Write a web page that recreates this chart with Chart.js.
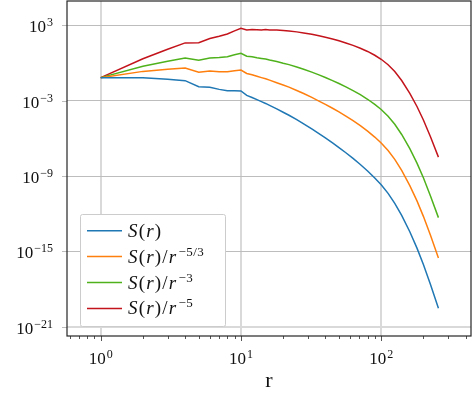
<!DOCTYPE html>
<html lang="en">
<head>
<meta charset="UTF-8">
<title>Structure function</title>
<style>
    html, body { margin: 0; padding: 0; background: #fff; }
    canvas { display: block; }
</style>
<script src="https://cdn.jsdelivr.net/npm/chart.js"></script>
</head>
<body>
<canvas id="myChart" width="473" height="396"></canvas>
<script>
// separation r
const rVals = [1, 2, 3, 4, 5, 6, 7, 8, 9, 10,
    11, 12, 13, 14, 15, 16, 18, 20, 22, 25,
    28, 32, 36, 40, 45, 50, 56, 63, 71, 80,
    90, 100, 112, 125, 140, 160, 180, 200, 225, 256];

// S(r)
const sPlain = [6.8e-2, 6.7e-2, 5.0e-2, 3.9e-2, 1.29e-2, 1.15e-2, 7.9e-3, 6.2e-3, 6.2e-3, 5.9e-3,
    2.6e-3, 1.8e-3, 1.2e-3, 8.3e-4, 6.0e-4, 4.2e-4, 2.2e-4, 1.2e-4, 6.9e-5, 3.05e-5,
    1.44e-5, 5.6e-6, 2.4e-6, 1.09e-6, 4.35e-7, 1.85e-7, 7.1e-8, 2.53e-8, 8.3e-9, 2.52e-9,
    6.98e-10, 1.97e-10, 4.12e-11, 6.73e-12, 7.4e-13, 3.66e-14, 1.81e-15, 8.97e-17, 2.19e-18, 2.89e-20];

// S(r)/r^-5/3
const sK53 = [6.8e-2, 2.14e-1, 3.16e-1, 3.89e-1, 1.86e-1, 2.29e-1, 2.04e-1, 2.0e-1, 2.4e-1, 2.75e-1,
    1.45e-1, 1.15e-1, 8.7e-2, 6.8e-2, 5.5e-2, 4.3e-2, 2.7e-2, 1.78e-2, 1.2e-2, 6.5e-3,
    3.7e-3, 1.82e-3, 9.3e-4, 5.1e-4, 2.47e-4, 1.26e-4, 5.86e-5, 2.52e-5, 1.01e-5, 3.75e-6,
    1.26e-6, 4.24e-7, 1.07e-7, 2.1e-8, 2.79e-9, 1.73e-10, 1.04e-11, 6.14e-13, 1.82e-14, 2.99e-16];

// S(r)/r^-3
const sK3 = [6.8e-2, 5.4e-1, 1.35, 2.51, 1.62, 2.45, 2.75, 3.16, 4.47, 5.9,
    3.47, 3.16, 2.63, 2.29, 2.04, 1.70, 1.29, 0.95, 0.74, 0.477,
    0.316, 0.186, 0.112, 6.97e-2, 3.96e-2, 2.31e-2, 1.26e-2, 6.32e-3, 2.98e-3, 1.29e-3,
    5.09e-4, 1.97e-4, 5.79e-5, 1.32e-5, 2.03e-6, 1.5e-7, 1.06e-8, 7.18e-10, 2.49e-11, 4.85e-13];

// S(r)/r^-5
const sK5 = [6.8e-2, 2.19, 12.3, 39.8, 40.7, 89, 135, 204, 363, 589,
    427, 457, 447, 417, 457, 427, 417, 389, 355, 299,
    248, 191, 145, 111, 80, 57.8, 39.4, 25.1, 15.0, 8.28,
    4.12, 1.97, 0.726, 0.206, 3.98e-2, 3.85e-3, 3.42e-4, 2.87e-5, 1.26e-6, 3.18e-8];

const xTicks = [1, 10, 100];
const xTickExp = ['0', '1', '2'];
const xMinor = [0.6, 0.7, 0.8, 0.9, 2, 3, 4, 5, 6, 7, 8, 9,
    20, 30, 40, 50, 60, 70, 80, 90, 200, 300, 400];
const yTicks = [1e3, 1e-3, 1e-9, 1e-15, 1e-21];
const yTickExp = ['3', '\u22123', '\u22129', '\u221215', '\u221221'];

const colors = ['#1f77b4', '#ff7f0e', '#4fb21c', '#c3141c'];
const series = [sPlain, sK53, sK3, sK5];
// legend text pieces: i = italic, n = upright, s = superscript
const legendParts = [
    [['S', 'i'], ['(', 'n'], ['r', 'i'], [')', 'n']],
    [['S', 'i'], ['(', 'n'], ['r', 'i'], [')', 'n'], ['/', 'n'], ['r', 'i'], ['\u22125/3', 's']],
    [['S', 'i'], ['(', 'n'], ['r', 'i'], [')', 'n'], ['/', 'n'], ['r', 'i'], ['\u22123', 's']],
    [['S', 'i'], ['(', 'n'], ['r', 'i'], [')', 'n'], ['/', 'n'], ['r', 'i'], ['\u22125', 's']]
];

const FONT = '"Liberation Serif", "DejaVu Serif", serif';

function drawPow(ctx, exp, x, base, align) {
    ctx.font = '17px ' + FONT;
    const wb = ctx.measureText('10').width;
    ctx.font = '12px ' + FONT;
    const we = ctx.measureText(exp).width;
    const total = wb + 1 + we;
    const x0 = align === 'right' ? x - total : x - total / 2;
    ctx.textAlign = 'left';
    ctx.textBaseline = 'alphabetic';
    ctx.font = '17px ' + FONT;
    ctx.fillText('10', x0, base);
    ctx.font = '12px ' + FONT;
    ctx.fillText(exp, x0 + wb + 1, base - 6);
}

const framePlugin = {
    id: 'frame',
    afterDraw(chart) {
        const { ctx, chartArea: a, scales: { x, y } } = chart;
        ctx.save();

        // tick marks
        ctx.lineWidth = 1;
        ctx.strokeStyle = '#bdbdbd';
        ctx.beginPath();
        yTicks.forEach(v => {
            const py = Math.round(y.getPixelForValue(v)) + 0.5;
            ctx.moveTo(a.left - 5, py);
            ctx.lineTo(a.left, py);
        });
        ctx.stroke();
        ctx.strokeStyle = '#555';
        ctx.beginPath();
        xTicks.forEach(v => {
            const px = Math.round(x.getPixelForValue(v)) + 0.5;
            ctx.moveTo(px, a.bottom);
            ctx.lineTo(px, a.bottom + 5);
        });
        xMinor.forEach(v => {
            const px = Math.round(x.getPixelForValue(v)) + 0.5;
            ctx.moveTo(px, a.bottom);
            ctx.lineTo(px, a.bottom + 3);
        });
        ctx.stroke();

        // frame
        ctx.strokeStyle = '#262626';
        ctx.lineWidth = 1.2;
        ctx.strokeRect(a.left, a.top, a.right - a.left, a.bottom - a.top);

        // tick labels
        ctx.fillStyle = '#111';
        yTicks.forEach((v, i) => {
            drawPow(ctx, yTickExp[i], 53, y.getPixelForValue(v) + 7, 'right');
        });
        xTicks.forEach((v, i) => {
            drawPow(ctx, xTickExp[i], x.getPixelForValue(v), 364, 'center');
        });

        // axis title
        ctx.font = '22px ' + FONT;
        ctx.textAlign = 'center';
        ctx.fillText('r', (a.left + a.right) / 2, 387);

        // legend
        ctx.fillStyle = '#fff';
        ctx.strokeStyle = '#cccccc';
        ctx.lineWidth = 1;
        ctx.beginPath();
        ctx.roundRect(80.5, 214.5, 145, 112, 2);
        ctx.fill();
        ctx.stroke();
        ctx.textAlign = 'left';
        legendParts.forEach((parts, i) => {
            const ly = 230.7 + i * 25.9;
            ctx.strokeStyle = colors[i];
            ctx.lineWidth = 1.5;
            ctx.beginPath();
            ctx.moveTo(87, ly);
            ctx.lineTo(122, ly);
            ctx.stroke();
            let tx = 128;
            ctx.fillStyle = '#111';
            parts.forEach(([t, s]) => {
                if (s === 's') {
                    ctx.font = '13px ' + FONT;
                    ctx.letterSpacing = '0.5px';
                    ctx.fillText(t, tx + 1, ly - 1);
                    tx += ctx.measureText(t).width + 1;
                    ctx.letterSpacing = '0px';
                } else {
                    ctx.font = (s === 'i' ? 'italic ' : '') + '19px ' + FONT;
                    ctx.fillText(t, tx, ly + 6);
                    tx += ctx.measureText(t).width + 1.2;
                }
            });
        });
        ctx.restore();
    }
};

const ctx = document.getElementById('myChart').getContext('2d');
const myChart = new Chart(ctx, {
    type: 'line',
    data: {
        datasets: series.map((s, i) => ({
            data: rVals.map((r, j) => ({ x: r, y: s[j] })),
            borderColor: colors[i],
            borderWidth: 1.5,
            pointRadius: 0,
            fill: false,
            tension: 0
        }))
    },
    options: {
        responsive: false,
        animation: false,
        layout: { padding: { top: 1, right: 2, left: 0, bottom: 0 } },
        plugins: { legend: { display: false }, tooltip: { enabled: false } },
        scales: {
            x: {
                type: 'logarithmic',
                min: 0.575,
                max: 437,
                afterBuildTicks: s => { s.ticks = xTicks.map(v => ({ value: v })); },
                afterFit: s => { s.height = 60; },
                ticks: { display: false },
                grid: { color: '#d9d9d9', lineWidth: 2, drawTicks: false },
                border: { display: false }
            },
            y: {
                type: 'logarithmic',
                min: 1.82e-22,
                max: 8.6e4,
                afterBuildTicks: s => { s.ticks = yTicks.map(v => ({ value: v })); },
                afterFit: s => { s.width = 67; },
                ticks: { display: false },
                grid: {
                    color: c => c.tick && c.tick.value === 1e-21 ? '#d9d9d9' : '#bdbdbd',
                    lineWidth: c => c.tick && c.tick.value === 1e-21 ? 2 : 1,
                    drawTicks: false
                },
                border: { display: false }
            }
        }
    },
    plugins: [framePlugin]
});
</script>
</body>
</html>
